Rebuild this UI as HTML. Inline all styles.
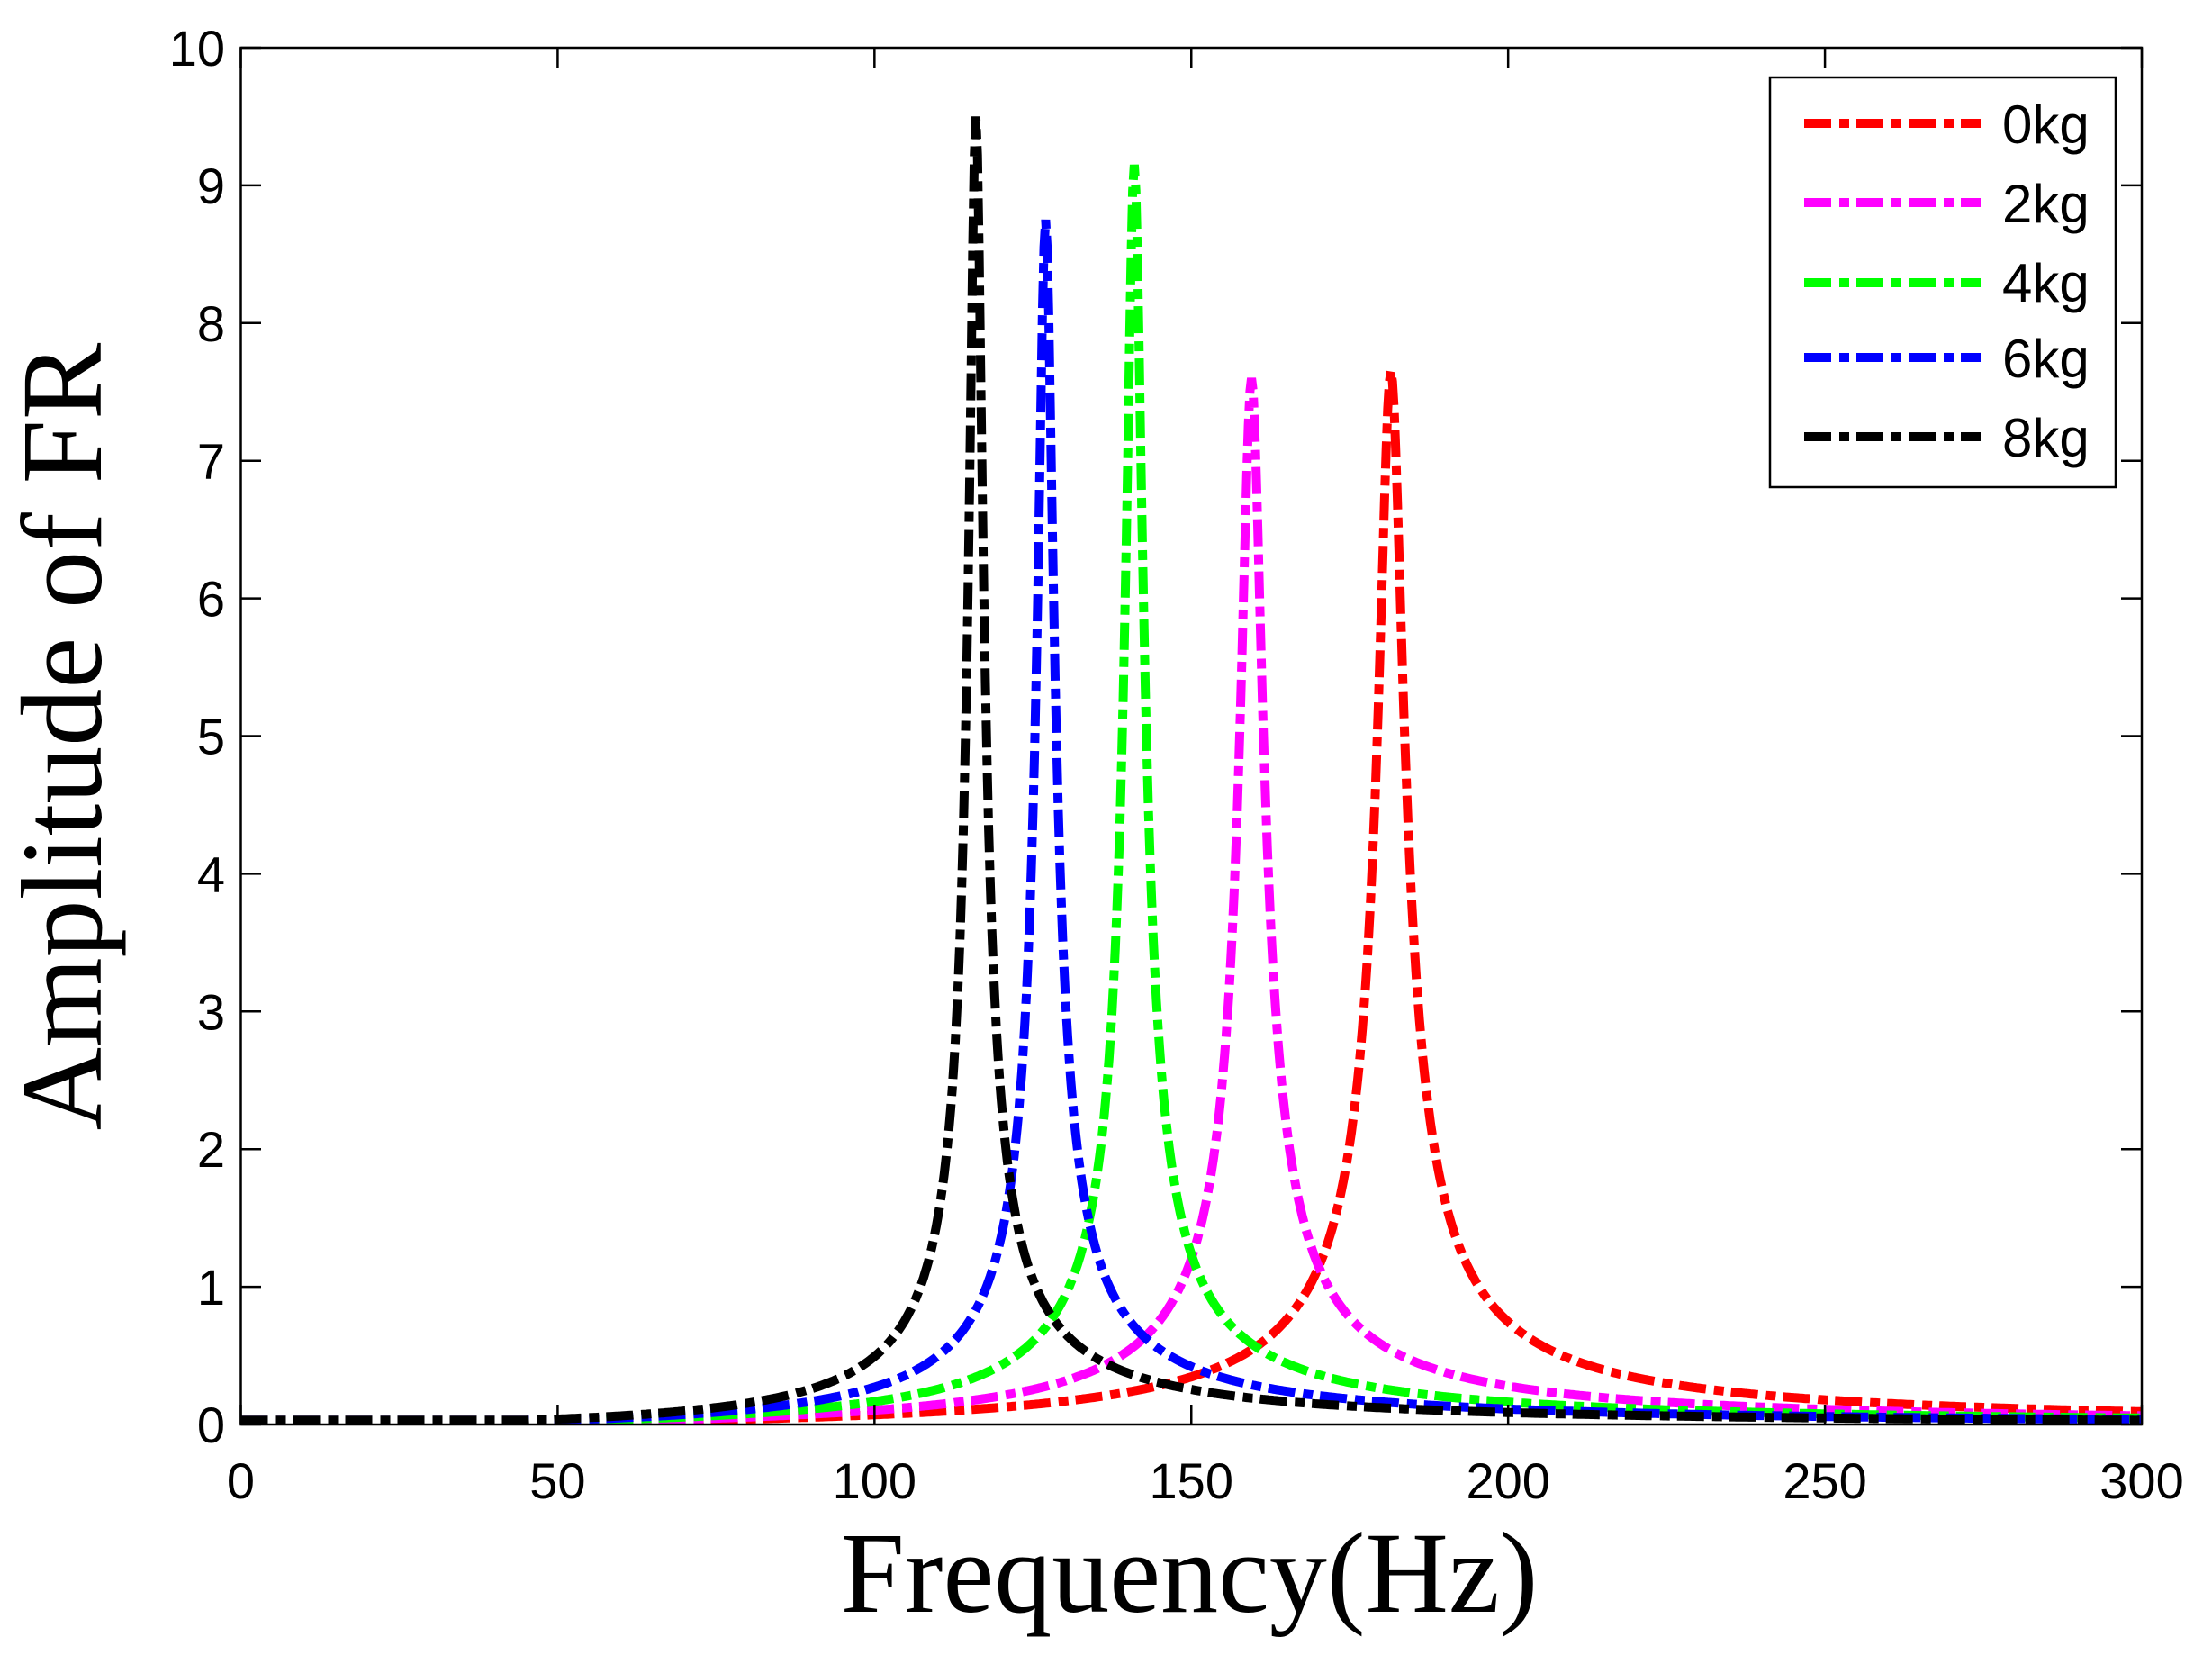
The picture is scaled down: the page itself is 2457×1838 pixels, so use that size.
<!DOCTYPE html>
<html><head><meta charset="utf-8"><style>
html,body{margin:0;padding:0;background:#fff;}
svg{display:block;}
</style></head><body>
<svg id="s" width="2457" height="1838" viewBox="0 0 2457 1838" xmlns="http://www.w3.org/2000/svg">
<rect width="2457" height="1838" fill="#fff"/>
<g id="curves" fill="none" stroke-width="10" stroke-dasharray="30 9 11 8"></g>
<rect x="267.5" y="53" width="2111.5" height="1529" fill="none" stroke="#000" stroke-width="2.5"/>
<g id="ticks" stroke="#000" stroke-width="2.5"></g>
<g id="labels" font-family="Liberation Sans, sans-serif" font-size="56" fill="#000"></g>
<text x="1321" y="1790" text-anchor="middle" font-family="Liberation Serif, serif" font-size="128">Frequency(Hz)</text>
<text transform="translate(112,818) rotate(-90)" text-anchor="middle" font-family="Liberation Serif, serif" font-size="128">Amplitude of FR</text>
<rect x="1966" y="86" width="384" height="455" fill="#fff" stroke="#000" stroke-width="2.5"/>
<g id="legend" stroke-width="10" stroke-dasharray="30 9 11 8"></g>
<g font-family="Liberation Sans, sans-serif" font-size="60" fill="#000">
<text x="2224" y="159">0kg</text><text x="2224" y="247">2kg</text><text x="2224" y="335">4kg</text><text x="2224" y="419">6kg</text><text x="2224" y="507">8kg</text>
</g>
</svg>
<script>
var NS="http://www.w3.org/2000/svg";
function X(f){return 267.5+f*2111.5/300;}
function Y(a){return 1582-a*152.9;}
function el(t,a,p){var e=document.createElementNS(NS,t);for(var k in a)e.setAttribute(k,a[k]);p.appendChild(e);return e;}
var tk=document.getElementById('ticks'),lb=document.getElementById('labels');
for(var i=0;i<=6;i++){var x=X(i*50);
 el('line',{x1:x,y1:1582,x2:x,y2:1560},tk);el('line',{x1:x,y1:53,x2:x,y2:75},tk);
 var t=el('text',{x:x,y:1664,'text-anchor':'middle'},lb);t.textContent=i*50;}
for(var j=0;j<=10;j++){var y=Y(j);
 el('line',{x1:267.5,y1:y,x2:290,y2:y},tk);el('line',{x1:2379,y1:y,x2:2356,y2:y},tk);
 var t=el('text',{x:250,y:y+20,'text-anchor':'end'},lb);t.textContent=j;}
var S=[["#ff0000",181.5,7.65,0.021],["#ff00ff",159.5,7.6,0.021],["#00ff00",141,9.15,0.018],["#0000ff",127,8.75,0.019],["#000000",116,9.5,0.018]];
var cg=document.getElementById('curves'),lg=document.getElementById('legend');
var ly=[137,225,314,397,485];
S.forEach(function(s,k){
 var f0=s[1],P=s[2],z2=s[3],d="";
 for(var f=0;f<=300;f+=0.25){
  var r=f/f0,g=1-r*r;
  var a=P*z2/Math.sqrt(g*g+(z2*r)*(z2*r))*Math.min(r*r,1);
  if(a<0.03)a=0.03;
  d+=(f==0?"M":"L")+X(f).toFixed(1)+","+Y(a).toFixed(1);
 }
 el('path',{d:d,stroke:s[0]},cg);
 el('line',{x1:2004,y1:ly[k],x2:2200,y2:ly[k],stroke:s[0]},lg);
});
</script>
</body></html>
